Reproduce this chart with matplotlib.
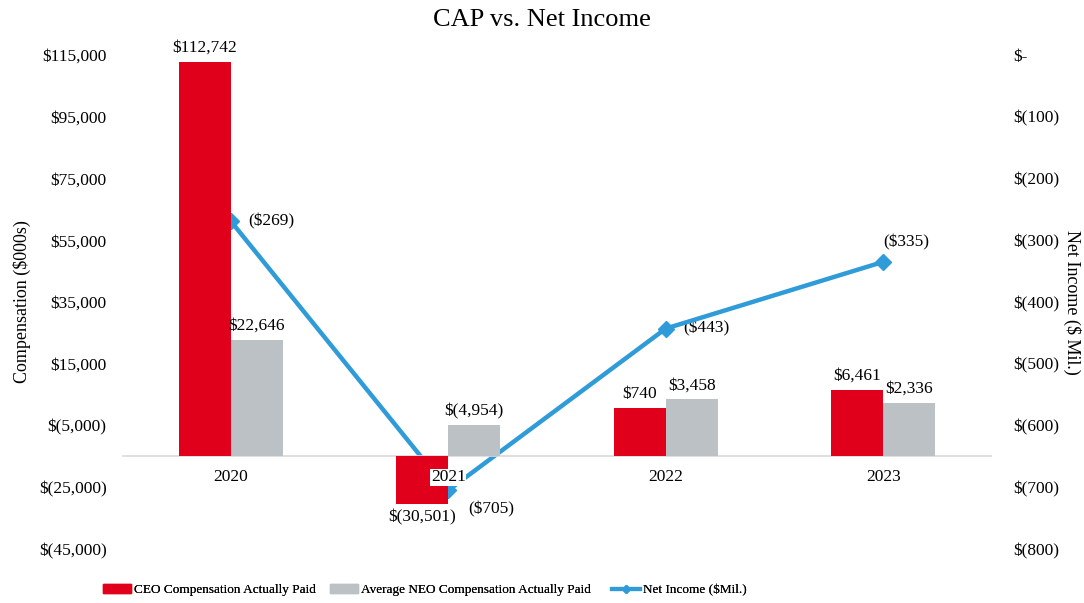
import numpy as np
import matplotlib.pyplot as plt
from matplotlib.lines import Line2D
from matplotlib.patches import Patch

plt.rcParams['font.family'] = ['Liberation Serif', 'DejaVu Serif']

years = ['2020', '2021', '2022', '2023']
ceo_cap = [112742, -30501, 740, 6461]
neo_cap = [22646, -4954, 3458, 2336]
net_income = [-269, -705, -443, -335]

ceo_labels = ['$112,742', '$(30,501)', '$740', '$6,461']
neo_labels = ['$22,646', '$(4,954)', '$3,458', '$2,336']
ni_labels = ['($269)', '($705)', '($443)', '($335)']

left_ticks = [115000, 95000, 75000, 55000, 35000, 15000, -5000, -25000, -45000]
left_ticklabels = ['$115,000', '$95,000', '$75,000', '$55,000', '$35,000',
                   '$15,000', '$(5,000)', '$(25,000)', '$(45,000)']
right_ticks = [0, -100, -200, -300, -400, -500, -600, -700, -800]
right_ticklabels = ['$-', '$(100)', '$(200)', '$(300)', '$(400)', '$(500)',
                    '$(600)', '$(700)', '$(800)']

# horizontal axis crosses the compensation axis here, bars grow from it
base = -15000

red = '#E0001B'
grey = '#BCC1C6'
blue = '#2F9BD8'

fig = plt.figure(figsize=(10.84, 6.03), dpi=100)
W, H = 1084, 603
ax = fig.add_axes([122 / W, 1 - 549 / H, 870 / W, 494 / H])
ax2 = ax.twinx()

x = np.arange(len(years))
bw = 0.24
ceo_h = np.array(ceo_cap) - base
neo_h = np.array(neo_cap) - base
ax.bar(x - bw / 2, ceo_h, bw, bottom=base, color=red, zorder=2)
ax.bar(x + bw / 2, neo_h, bw, bottom=base, color=grey, zorder=2)
ax.axhline(base, color='#D9D9D9', lw=1.2, zorder=1)

ax.set_xlim(-0.5, 3.5)
ax.set_ylim(-45000, 115000)
ax.set_yticks(left_ticks)
ax.set_yticklabels(left_ticklabels)
ax.set_xticks([])
for s in ax.spines.values():
    s.set_visible(False)
for s in ax2.spines.values():
    s.set_visible(False)
ax.tick_params(axis='y', length=0, labelsize=12.5, pad=11)
ax.set_ylabel('Compensation ($000s)', fontsize=13)
ax.yaxis.set_label_coords(-0.105, 0.5)

# data labels on bars
for i in range(len(years)):
    if ceo_cap[i] >= base:
        ax.text(x[i] - bw / 2, ceo_cap[i] + 2000, ceo_labels[i], ha='center',
                va='bottom', fontsize=12.5)
    else:
        ax.text(x[i] - bw / 2, ceo_cap[i] - 1500, ceo_labels[i], ha='center',
                va='top', fontsize=12.5)
    ax.text(x[i] + bw / 2, neo_cap[i] + 2000, neo_labels[i], ha='center',
            va='bottom', fontsize=12.5)

# category labels just under the axis line
for i, yr in enumerate(years):
    t = ax.text(x[i], base - 6800, yr, ha='center', va='center', fontsize=12.5,
                zorder=6)
    if yr == '2021':
        t.set_bbox(dict(facecolor='white', edgecolor='none', pad=0.5))

ax2.plot(x, net_income, color=blue, lw=3.2, marker='D', markersize=8.5, zorder=4)
ax2.set_ylim(-800, 0)
ax2.set_yticks(right_ticks)
ax2.set_yticklabels(right_ticklabels)
ax2.tick_params(axis='y', length=0, labelsize=12.5, pad=15)
ax2.set_ylabel('Net Income ($ Mil.)', fontsize=13, rotation=270, va='center')
ax2.yaxis.set_label_coords(1.092, 0.5)
ax.set_zorder(ax2.get_zorder() + 1)
ax.patch.set_visible(False)

offs = [(0.08, 0, 'left', 'center'), (0.09, -30, 'left', 'center'),
        (0.08, 0, 'left', 'center'), (0.105, 32, 'center', 'center')]
for i, (dx, dy, ha, va) in enumerate(offs):
    ax2.text(x[i] + dx, net_income[i] + dy, ni_labels[i], ha=ha, va=va,
             fontsize=12.5)

fig.text(0.5, 1 - 20 / H, 'CAP vs. Net Income', ha='center', va='center',
         fontsize=19)

# legend entries placed one by one, matching the spacing of the original
handles = [Patch(color=red, label='CEO Compensation Actually Paid'),
           Patch(color=grey, label='Average NEO Compensation Actually Paid'),
           Line2D([], [], color=blue, lw=3, marker='D', markersize=4,
                  label='Net Income ($Mil.)')]
starts = [103, 330, 612]
for h, xs in zip(handles, starts):
    lg = fig.legend(handles=[h], loc='center left',
                    bbox_to_anchor=(xs / W, 1 - 590 / H), frameon=False,
                    fontsize=9.5, handlelength=2.1, handleheight=0.7,
                    handletextpad=0.25, borderpad=0, borderaxespad=0)
    fig.add_artist(lg)

fig.savefig('out.png', dpi=100)
